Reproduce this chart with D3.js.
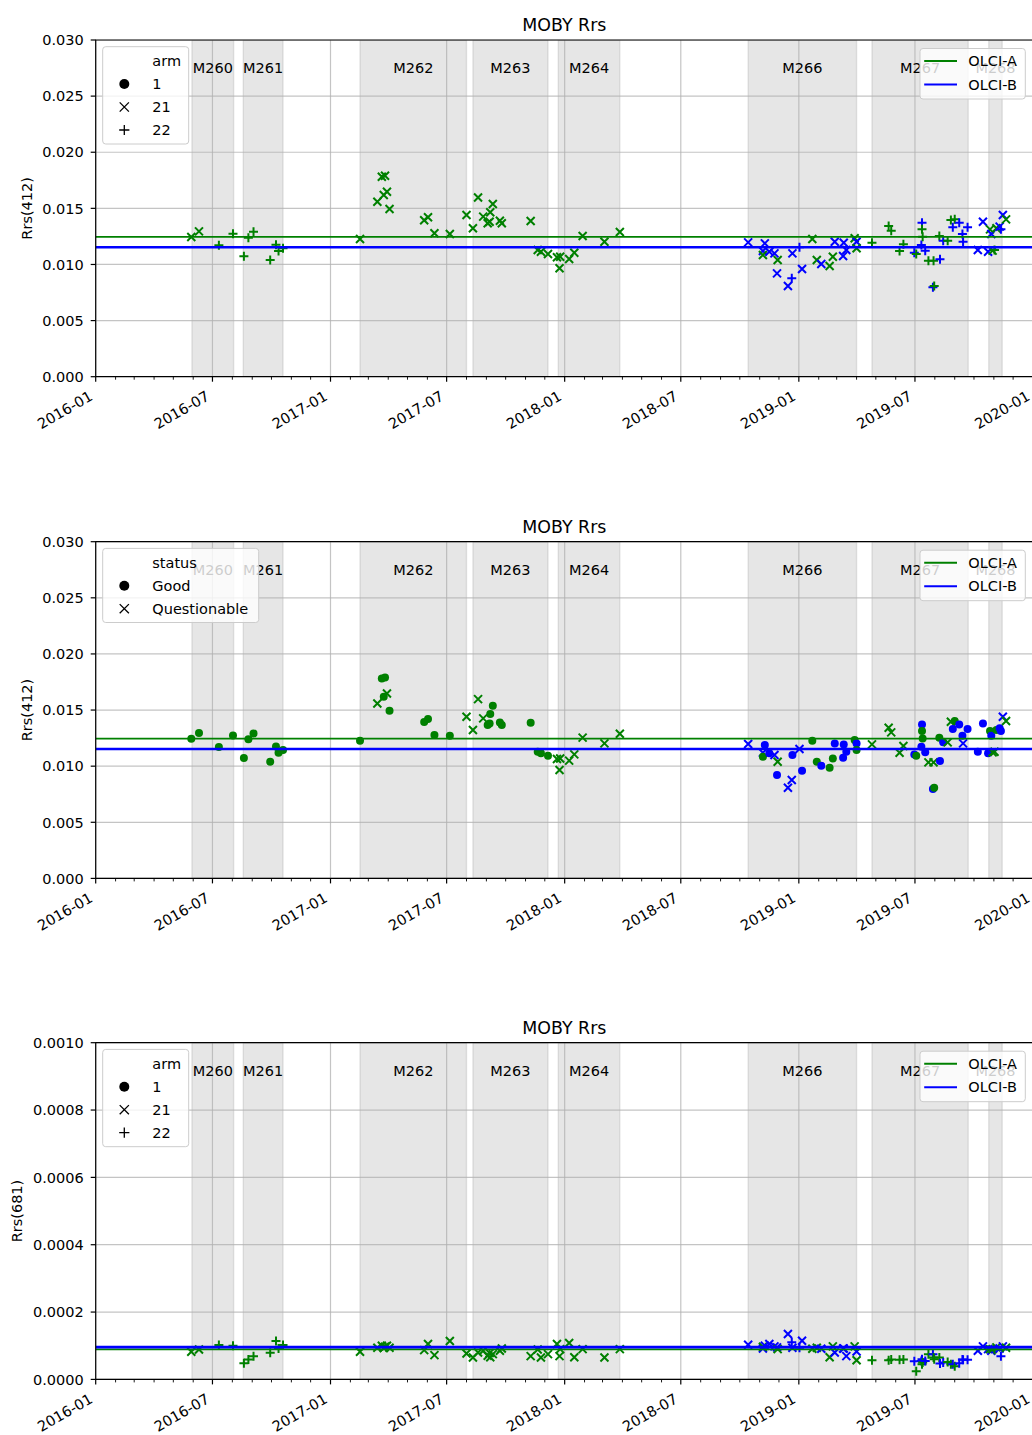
<!DOCTYPE html>
<html>
<head>
<meta charset="utf-8">
<style>
  body { margin: 0; background: #fff; }
  svg text { font-family: "DejaVu Sans", sans-serif; fill: #000; }
</style>
</head>
<body>
<svg id="fig" width="1032" height="1435"></svg>
<script src="https://d3js.org/d3.v7.min.js"></script>
<script>
// ---- matchups (one entry per in-situ / satellite match) ----
const matchDates = [
  '2016-05-29','2016-06-10','2016-07-11','2016-08-02','2016-08-19','2016-08-26','2016-09-03','2016-09-29',
  '2016-10-08','2016-10-12','2016-10-19','2017-02-16','2017-03-15','2017-03-22','2017-03-25','2017-03-27',
  '2017-03-30','2017-04-03','2017-05-27','2017-06-02','2017-06-12','2017-07-06','2017-08-01','2017-08-11',
  '2017-08-19','2017-08-27','2017-09-03','2017-09-06','2017-09-07','2017-09-11','2017-09-22','2017-09-25',
  '2017-11-09','2017-11-20','2017-11-25','2017-12-06','2017-12-20','2017-12-24','2017-12-25','2018-01-08',
  '2018-01-16','2018-01-29','2018-03-04','2018-03-28',
  '2018-10-14','2018-11-06','2018-11-06','2018-11-09','2018-11-16','2018-11-24','2018-11-28','2018-11-29',
  '2018-12-15','2018-12-21','2018-12-22','2019-01-02','2019-01-06','2019-01-22','2019-01-29','2019-02-05',
  '2019-02-18','2019-02-23','2019-02-26','2019-03-11','2019-03-12','2019-03-16','2019-03-29','2019-04-01',
  '2019-04-01','2019-04-25','2019-05-21','2019-05-25','2019-06-07','2019-06-13','2019-06-30','2019-07-03',
  '2019-07-11','2019-07-12','2019-07-12','2019-07-13','2019-07-17','2019-07-22','2019-07-29','2019-07-30',
  '2019-07-31','2019-08-08','2019-08-09','2019-08-14','2019-08-21','2019-08-26','2019-08-29','2019-09-01',
  '2019-09-08','2019-09-13','2019-09-14','2019-09-21','2019-10-07','2019-10-15','2019-10-23','2019-10-26',
  '2019-10-28','2019-10-30','2019-11-02','2019-11-05','2019-11-10','2019-11-12','2019-11-15','2019-11-20'
];
const matchSensor = [
  'A','A','A','A','A','A','A','A','A','A','A','A','A','A','A','A',
  'A','A','A','A','A','A','A','A','A','A','A','A','A','A','A','A',
  'A','A','A','A','A','A','A','A','A','A','A','A',
  'B','B','A','B','B','B','B','A','B','B','B','B','B','A','A','B',
  'A','A','B','B','B','B','A','B','A','A','A','A','A','A','B','A',
  'B','B','A','A','B','A','B','A','A','A','B','B','A','A','B','A',
  'B','B','B','B','B','B','B','A','B','A','A','A','B','B','B','A'
];
const matchArm = [
  21,21,22,22,22,22,22,22,22,22,22,21,21,21,21,21,
  21,21,21,21,21,21,21,21,21,21,21,21,21,21,21,21,
  21,21,21,21,21,21,21,21,21,21,21,21,
  21,21,21,21,21,21,21,21,21,22,21,22,21,21,21,21,
  21,21,21,21,21,21,21,21,21,22,22,22,22,22,22,22,
  22,22,22,22,22,22,22,22,22,22,22,22,22,22,22,22,
  22,22,22,22,21,21,21,21,21,21,22,21,21,22,21,21
];
const matchStatus = [
  'Good','Good','Good','Good','Good','Good','Good','Good','Good','Good','Good','Good','Questionable','Good','Good','Good',
  'Questionable','Good','Good','Good','Good','Good','Questionable','Questionable','Questionable','Questionable','Good','Good','Good','Good','Good','Good',
  'Good','Good','Good','Good','Questionable','Questionable','Questionable','Questionable','Questionable','Questionable','Questionable','Questionable',
  'Questionable','Questionable','Good','Good','Good','Questionable','Good','Questionable','Questionable','Questionable','Good','Questionable','Good','Good','Good','Good',
  'Good','Good','Good','Good','Good','Good','Good','Good','Good','Questionable','Questionable','Questionable','Questionable','Questionable','Good','Good',
  'Good','Good','Good','Good','Good','Questionable','Good','Questionable','Good','Good','Good','Good','Questionable','Questionable','Good','Good',
  'Good','Good','Questionable','Good','Good','Good','Good','Good','Good','Questionable','Questionable','Good','Good','Good','Questionable','Questionable'
];
const rrs412 = [
  0.01245,0.01295,0.01171,0.01274,0.01073,0.01239,0.01292,0.01040,0.01176,0.01120,0.01144,0.01227,0.01559,0.01782,0.01619,0.01791,
  0.01648,0.01494,0.01394,0.01420,0.01278,0.01271,0.01441,0.01322,0.01597,0.01426,0.01367,0.01381,0.01465,0.01539,0.01390,0.01367,
  0.01387,0.01129,0.01114,0.01093,0.01064,0.00966,0.01069,0.01049,0.01105,0.01254,0.01203,0.01289,
  0.01197,0.01120,0.01084,0.01188,0.01114,0.01099,0.00921,0.01040,0.00808,0.00877,0.01099,0.01153,0.00960,0.01227,0.01040,0.01004,
  0.00986,0.01069,0.01203,0.01075,0.01194,0.01129,0.01233,0.01203,0.01144,0.01194,0.01343,0.01301,0.01120,0.01180,0.01105,0.01093,
  0.01173,0.01372,0.01313,0.01247,0.01123,0.01034,0.00797,0.01034,0.00808,0.01254,0.01046,0.01212,0.01212,0.01396,0.01331,0.01402,
  0.01372,0.01271,0.01203,0.01331,0.01129,0.01381,0.01114,0.01313,0.01271,0.01123,0.01129,0.01322,0.01337,0.01313,0.01441,0.01402
];
const rrs681 = [
  0.000082,0.000089,0.000102,0.000100,0.000048,0.000059,0.000069,0.000079,0.000114,0.000092,0.000102,0.000082,0.000094,0.000100,0.000093,0.000097,
  0.000100,0.000094,0.000087,0.000105,0.000072,0.000114,0.000077,0.000065,0.000080,0.000085,0.000070,0.000078,0.000066,0.000075,0.000085,0.000092,
  0.000069,0.000089,0.000065,0.000075,0.000105,0.000069,0.000090,0.000108,0.000066,0.000090,0.000065,0.000090,
  0.000103,0.000092,0.000097,0.000100,0.000105,0.000098,0.000095,0.000090,0.000135,0.000110,0.000094,0.000094,0.000115,0.000091,0.000094,0.000091,
  0.000066,0.000098,0.000080,0.000092,0.000092,0.000069,0.000098,0.000083,0.000057,0.000057,0.000057,0.000059,0.000058,0.000059,0.000054,0.000024,
  0.000055,0.000060,0.000045,0.000050,0.000055,0.000075,0.000075,0.000065,0.000060,0.000065,0.000047,0.000050,0.000052,0.000045,0.000045,0.000039,
  0.000048,0.000059,0.000058,0.000058,0.000085,0.000098,0.000090,0.000090,0.000085,0.000090,0.000088,0.000095,0.000092,0.000069,0.000098,0.000094
];

// ---- MOBY deployments (shaded periods) ----
const deployNames = ['M260','M261','M262','M263','M264','M266','M267','M268'];
const deployStart = ['2016-05-30','2016-08-18','2017-02-16','2017-08-11','2017-12-22','2018-10-14','2019-04-25','2019-10-24'];
const deployEnd   = ['2016-08-03','2016-10-19','2017-08-01','2017-12-06','2018-03-28','2019-04-01','2019-09-22','2019-11-14'];

// ---- sensor mean lines ----
const sensorKeys = ['A','B'];
const sensorNames = ['OLCI-A','OLCI-B'];
const sensorColors = ['green','blue'];
const mean412 = [0.01245, 0.01153];
const mean681 = [0.0000891, 0.0000960];

// ---- axes ticks ----
const ticks412 = [0, 0.005, 0.010, 0.015, 0.020, 0.025, 0.030];
const ticks681 = [0, 0.0002, 0.0004, 0.0006, 0.0008, 0.0010];
const armLevels = [1, 21, 22];
const statusLevels = ['Good', 'Questionable'];

const rows = matchDates.map((d, i) => ({
  date: new Date(d), sensor: matchSensor[i], arm: matchArm[i],
  status: matchStatus[i], r412: rrs412[i], r681: rrs681[i]
}));

const panels = [
  { top: 40,    key: 'r412', ticks: ticks412, fmt: '.3f', label: 'Rrs(412)', means: mean412,
    styleBy: 'arm', title: 'arm', levels: armLevels, legendW: 86 },
  { top: 541.7, key: 'r412', ticks: ticks412, fmt: '.3f', label: 'Rrs(412)', means: mean412,
    styleBy: 'status', title: 'status', levels: statusLevels, legendW: 156 },
  { top: 1042.7, key: 'r681', ticks: ticks681, fmt: '.4f', label: 'Rrs(681)', means: mean681,
    styleBy: 'arm', title: 'arm', levels: armLevels, legendW: 86 }
];

const left = 95.7, right = 1033, plotH = 336.7;
const svg = d3.select('#fig');
const x = d3.scaleUtc()
  .domain([new Date('2016-01-01'), new Date('2020-01-01')])
  .range([left, right]);
const sensorColor = d3.scaleOrdinal().domain(sensorKeys).range(sensorColors);

// marker for style level: circle, x or +
function markerShape(level) {
  if (level === 1 || level === 'Good') return 'o';
  if (level === 21 || level === 'Questionable') return 'x';
  return '+';
}
function drawMarker(g, shape, cx, cy, color, r, sw) {
  if (shape === 'o') {
    g.append('circle').attr('cx', cx).attr('cy', cy).attr('r', r).attr('fill', color);
  } else if (shape === 'x') {
    g.append('path')
      .attr('d', `M${cx - r},${cy - r}L${cx + r},${cy + r}M${cx - r},${cy + r}L${cx + r},${cy - r}`)
      .attr('stroke', color).attr('stroke-width', sw).attr('fill', 'none');
  } else {
    g.append('path')
      .attr('d', `M${cx - r - 0.5},${cy}L${cx + r + 0.5},${cy}M${cx},${cy - r - 0.5}L${cx},${cy + r + 0.5}`)
      .attr('stroke', color).attr('stroke-width', sw).attr('fill', 'none');
  }
}

panels.forEach(p => {
  const bottom = p.top + plotH;
  const y = d3.scaleLinear().domain([0, p.ticks[p.ticks.length - 1]]).range([bottom, p.top]);
  const g = svg.append('g');

  g.append('defs').append('clipPath').attr('id', 'clip' + p.top)
    .append('rect').attr('x', left).attr('y', p.top).attr('width', right - left).attr('height', plotH);
  const plot = g.append('g').attr('clip-path', `url(#clip${p.top})`);

  // deployment spans
  plot.selectAll('rect.span').data(deployNames).join('rect')
    .attr('x', (d, i) => x(new Date(deployStart[i])))
    .attr('width', (d, i) => x(new Date(deployEnd[i])) - x(new Date(deployStart[i])))
    .attr('y', p.top).attr('height', plotH)
    .attr('fill', 'gray').attr('fill-opacity', 0.2)
    .attr('stroke', 'gray').attr('stroke-opacity', 0.2).attr('stroke-width', 1.4);

  // grid
  const xTicks = x.ticks(d3.utcMonth.every(6));
  plot.selectAll('line.vg').data(xTicks).join('line')
    .attr('x1', d => x(d)).attr('x2', d => x(d)).attr('y1', p.top).attr('y2', bottom)
    .attr('stroke', '#b0b0b0').attr('stroke-width', 1.2).attr('stroke-opacity', 0.75);
  plot.selectAll('line.hg').data(p.ticks).join('line')
    .attr('x1', left).attr('x2', right).attr('y1', d => y(d)).attr('y2', d => y(d))
    .attr('stroke', '#b0b0b0').attr('stroke-width', 1.2).attr('stroke-opacity', 0.75);

  // scatter points
  const pts = plot.append('g');
  rows.forEach(r => {
    drawMarker(pts, markerShape(r[p.styleBy]), x(r.date), y(r[p.key]), sensorColor(r.sensor), 4, 2);
  });

  // sensor mean lines
  plot.selectAll('line.mean').data(p.means).join('line')
    .attr('x1', left).attr('x2', right).attr('y1', d => y(d)).attr('y2', d => y(d))
    .attr('stroke', (d, i) => sensorColors[i]).attr('stroke-width', (d, i) => i === 0 ? 1.8 : 2.6);

  // deployment labels
  plot.selectAll('text.dep').data(deployNames).join('text')
    .attr('x', (d, i) => (x(new Date(deployStart[i])) + x(new Date(deployEnd[i]))) / 2)
    .attr('y', p.top + 28).attr('dy', '0.35em')
    .attr('text-anchor', 'middle').attr('font-size', 14.5)
    .text(d => d);

  // spines
  g.append('path')
    .attr('d', `M${right},${p.top}H${left}V${bottom}H${right}`)
    .attr('fill', 'none').attr('stroke', '#000').attr('stroke-width', 1.2);

  // y axis ticks
  const yAx = g.append('g');
  p.ticks.forEach(t => {
    yAx.append('line').attr('x1', left - 5).attr('x2', left).attr('y1', y(t)).attr('y2', y(t))
      .attr('stroke', '#000').attr('stroke-width', 1.2);
    yAx.append('text').attr('x', left - 12).attr('y', y(t)).attr('dy', '0.36em')
      .attr('text-anchor', 'end').attr('font-size', 14.5).text(d3.format(p.fmt)(t));
  });
  g.append('text')
    .attr('transform', `translate(${p.key === 'r681' ? 16.5 : 26.7},${p.top + plotH / 2}) rotate(-90)`)
    .attr('dy', '0.35em').attr('text-anchor', 'middle').attr('font-size', 14.5).text(p.label);

  // x axis ticks
  const xAx = g.append('g');
  x.ticks(d3.utcMonth.every(1)).forEach(t => {
    const major = t.getUTCMonth() % 6 === 0;
    xAx.append('line').attr('x1', x(t)).attr('x2', x(t)).attr('y1', bottom).attr('y2', bottom + (major ? 5 : 3))
      .attr('stroke', '#000').attr('stroke-width', major ? 1.2 : 0.9);
  });
  xTicks.forEach(t => {
    xAx.append('text')
      .attr('transform', `translate(${x(t) - 2},${bottom + 22.5}) rotate(-30)`)
      .attr('text-anchor', 'end').attr('font-size', 14.5)
      .text(d3.utcFormat('%Y-%m')(t));
  });

  // title
  g.append('text').attr('x', (left + right) / 2).attr('y', p.top - 9)
    .attr('text-anchor', 'middle').attr('font-size', 17.4).text('MOBY Rrs');

  // style legend (upper left)
  const lg = g.append('g').attr('transform', `translate(102.7,${p.top + 6.7})`);
  const nRows = p.levels.length + 1;
  lg.append('rect').attr('width', p.legendW).attr('height', nRows * 23.2 + 4.5).attr('rx', 3)
    .attr('fill', '#fff').attr('fill-opacity', 0.8).attr('stroke', '#cccccc');
  lg.append('text').attr('x', 49.6).attr('y', 14.3).attr('dy', '0.35em').attr('font-size', 14.5).text(p.title);
  p.levels.forEach((lv, i) => {
    const cy = 14.3 + (i + 1) * 23;
    drawMarker(lg, markerShape(lv), 21.6, cy, '#000', markerShape(lv) === 'o' ? 5 : 4.6, 1.3);
    lg.append('text').attr('x', 49.6).attr('y', cy).attr('dy', '0.35em').attr('font-size', 14.5).text(lv);
  });

  // sensor legend (upper right)
  const rg = g.append('g').attr('transform', `translate(920,${p.top + 8.5})`);
  rg.append('rect').attr('width', 105.3).attr('height', 50.5).attr('rx', 3)
    .attr('fill', '#fff').attr('fill-opacity', 0.8).attr('stroke', '#cccccc');
  sensorNames.forEach((s, i) => {
    const cy = 12.5 + i * 23.5;
    rg.append('line').attr('x1', 4.2).attr('x2', 37).attr('y1', cy).attr('y2', cy)
      .attr('stroke', sensorColors[i]).attr('stroke-width', 2);
    rg.append('text').attr('x', 48.3).attr('y', cy).attr('dy', '0.35em').attr('font-size', 14.5).text(s);
  });
});
</script>
</body>
</html>
